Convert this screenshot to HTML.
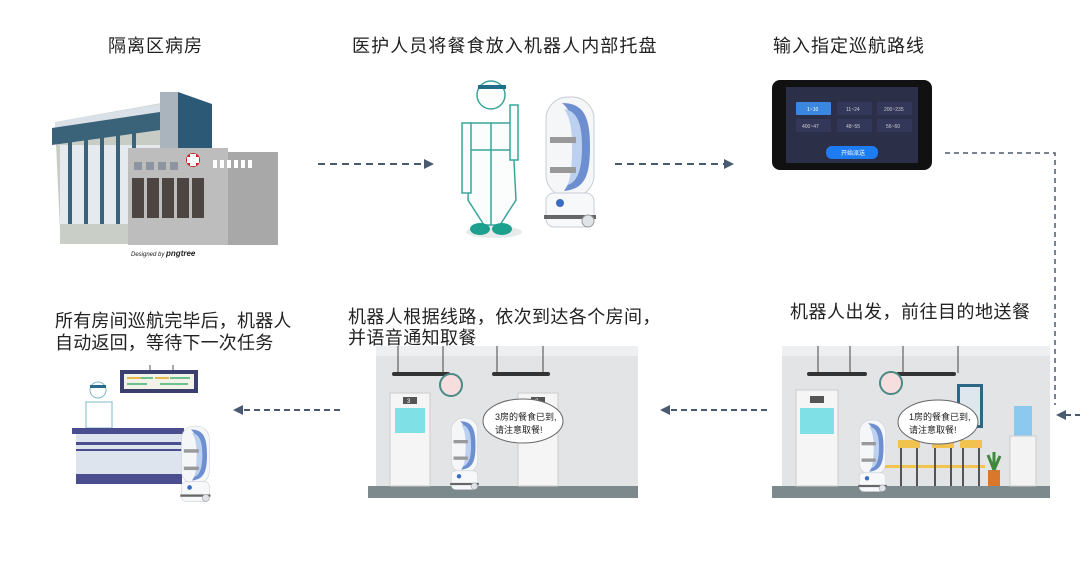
<!DOCTYPE html>
<html><head><meta charset="utf-8"><style>
html,body{margin:0;padding:0;background:#fff;}
svg{display:block}
text{font-family:"Liberation Sans","Noto Sans CJK SC",sans-serif;fill:#222;}
</style></head><body>
<svg width="1080" height="585" viewBox="0 0 1080 585" xmlns="http://www.w3.org/2000/svg">
<defs>
<marker id="ah" markerWidth="10" markerHeight="10" refX="8" refY="5" orient="auto" markerUnits="userSpaceOnUse">
<path d="M0,0 L10,5 L0,10 Z" fill="#4a5a70"/></marker>
<g id="robot">
<rect x="6" y="0" width="48" height="100" rx="22" fill="#f4f6f8" stroke="#c9ced6"/>
<path d="M22,6 C44,6 50,20 50,50 C50,80 44,92 24,94 C34,80 36,60 36,48 C36,30 32,14 22,6Z" fill="#6d8fd0"/>
<path d="M24,12 C38,14 42,28 42,50 C42,72 38,84 28,88 C32,74 32,60 32,48 C32,32 30,20 24,12Z" fill="#bcd0ef"/>
<rect x="10" y="40" width="26" height="6" fill="#999"/>
<rect x="10" y="70" width="26" height="6" fill="#999"/>
<rect x="6" y="96" width="48" height="34" rx="8" fill="#f7f8fa" stroke="#c9ced6"/>
<rect x="4" y="118" width="52" height="4" fill="#666"/>
<circle cx="48" cy="124" r="6" fill="#e0e3e8" stroke="#999"/>
<circle cx="20" cy="106" r="4" fill="#3a6cc0"/>
</g>
</defs>

<!-- Titles -->
<text x="108" y="52" font-size="18" letter-spacing="1">隔离区病房</text>
<text x="352" y="52" font-size="18" letter-spacing="1.1">医护人员将餐食放入机器人内部托盘</text>
<text x="773" y="52" font-size="18" letter-spacing="1">输入指定巡航路线</text>

<!-- Building -->
<g>
<polygon points="55,122 190,98 190,230 60,230" fill="#c7cdc4"/>
<polygon points="55,122 160,104 160,114 55,132" fill="#d9e0e8"/>
<polygon points="52,128 160,112 160,130 52,145" fill="#3a6278"/>
<rect x="160" y="92" width="18" height="100" fill="#aab4bd"/>
<polygon points="178,92 212,104 212,160 178,160" fill="#2c5a76"/>
<rect x="60" y="145" width="100" height="80" fill="#e4eaee"/>
<g fill="#3a6278"><rect x="68" y="140" width="4" height="85"/><rect x="84" y="138" width="4" height="87"/><rect x="100" y="135" width="4" height="90"/><rect x="116" y="132" width="4" height="93"/><rect x="132" y="130" width="4" height="95"/></g>
<rect x="60" y="224" width="70" height="20" fill="#c9cfc6"/>
<rect x="128" y="148" width="100" height="97" fill="#bdbdbd"/>
<rect x="228" y="152" width="50" height="93" fill="#a8a8a8"/>
<g fill="#8d96a0"><rect x="134" y="162" width="8" height="8"/><rect x="146" y="162" width="8" height="8"/><rect x="158" y="162" width="8" height="8"/><rect x="170" y="162" width="8" height="8"/></g>
<circle cx="193" cy="160" r="7" fill="#d8232a"/><rect x="190" y="154" width="6" height="12" fill="#fff"/><rect x="187" y="157" width="12" height="6" fill="#fff"/>
<g fill="#fff"><rect x="213" y="160" width="4" height="8"/><rect x="220" y="160" width="4" height="8"/><rect x="227" y="160" width="4" height="8"/><rect x="234" y="160" width="4" height="8"/><rect x="241" y="160" width="4" height="8"/><rect x="248" y="160" width="4" height="8"/></g>
<g fill="#4d4541"><rect x="132" y="178" width="12" height="40"/><rect x="147" y="178" width="12" height="40"/><rect x="162" y="178" width="12" height="40"/><rect x="177" y="178" width="12" height="40"/><rect x="192" y="178" width="12" height="40"/></g>
<text x="131" y="256" font-size="6" font-style="italic">Designed by <tspan font-size="8" font-weight="bold">pngtree</tspan></text>
</g>

<!-- Row 1 arrows -->
<line x1="318" y1="164" x2="432" y2="164" stroke="#4a5a70" stroke-width="2" stroke-dasharray="7,5" marker-end="url(#ah)"/>
<line x1="615" y1="164" x2="732" y2="164" stroke="#4a5a70" stroke-width="2" stroke-dasharray="7,5" marker-end="url(#ah)"/>

<!-- Medical worker -->
<g stroke="#3aa59b" stroke-width="1.5" fill="#fbfdfc">
<ellipse cx="494" cy="232" rx="28" ry="6" fill="#e6eaea" stroke="none"/>
<circle cx="491" cy="95" r="14"/>
<path d="M470,123 L512,123 L516,200 L500,225 L490,225 L484,225 L468,200Z"/>
<line x1="491" y1="123" x2="491" y2="225"/>
<line x1="470" y1="150" x2="514" y2="150"/>
<rect x="462" y="123" width="9" height="70"/>
<rect x="510" y="105" width="8" height="55"/>
</g>
<rect x="478" y="85" width="28" height="4" fill="#1f6f8b"/>
<ellipse cx="480" cy="229" rx="10" ry="6" fill="#1ea08f"/>
<ellipse cx="502" cy="229" rx="10" ry="6" fill="#1ea08f"/>
<use href="#robot" x="540" y="97" transform=""/>

<!-- Tablet -->
<rect x="772" y="80" width="160" height="90" rx="8" fill="#111"/>
<rect x="786" y="87" width="132" height="76" fill="#2b2f48"/>
<rect x="796" y="102" width="35" height="13" rx="1" fill="#3b86e0"/>
<rect x="837" y="102" width="35" height="13" fill="#33385a"/>
<rect x="877" y="102" width="35" height="13" fill="#33385a"/>
<rect x="796" y="119" width="35" height="13" fill="#33385a"/>
<rect x="837" y="119" width="35" height="13" fill="#33385a"/>
<rect x="877" y="119" width="35" height="13" fill="#33385a"/>
<text x="807" y="111" font-size="5" fill="#fff" style="fill:#fff">1~10</text>
<text x="846" y="111" font-size="5" style="fill:#ccc">11~24</text>
<text x="884" y="111" font-size="5" style="fill:#ccc">200~235</text>
<text x="802" y="128" font-size="5" style="fill:#ccc">400~47</text>
<text x="846" y="128" font-size="5" style="fill:#ccc">48~55</text>
<text x="886" y="128" font-size="5" style="fill:#ccc">56~60</text>
<rect x="826" y="146" width="52" height="13" rx="6" fill="#1e7cf2"/>
<text x="841" y="155" font-size="6" style="fill:#fff">开始派送</text>

<!-- Right connector -->
<polyline points="945,153 1055,153 1055,405" fill="none" stroke="#4a5a70" stroke-width="1.5" stroke-dasharray="5,4"/>
<line x1="1080" y1="415" x2="1058" y2="415" stroke="#4a5a70" stroke-width="2" stroke-dasharray="5,4" marker-end="url(#ah)"/>

<!-- Row 2 titles -->
<text x="790" y="318" font-size="18" letter-spacing="0.5">机器人出发，前往目的地送餐</text>
<text x="348" y="323" font-size="18" letter-spacing="0.4">机器人根据线路，依次到达各个房间，</text>
<text x="348" y="344" font-size="18" letter-spacing="0.4">并语音通知取餐</text>
<text x="55" y="327" font-size="18" letter-spacing="0.2">所有房间巡航完毕后，机器人</text>
<text x="55" y="349" font-size="18" letter-spacing="0.2">自动返回，等待下一次任务</text>

<!-- Scene right -->
<g>
<rect x="782" y="346" width="268" height="140" fill="#e3e4e6"/>
<rect x="782" y="346" width="268" height="10" fill="#eeeff0"/>
<rect x="772" y="486" width="278" height="12" fill="#7c8a8e"/>
<line x1="818" y1="346" x2="818" y2="373" stroke="#444"/><line x1="850" y1="346" x2="850" y2="373" stroke="#444"/>
<line x1="903" y1="346" x2="903" y2="373" stroke="#444"/><line x1="958" y1="346" x2="958" y2="373" stroke="#444"/>
<rect x="807" y="372" width="60" height="4" rx="2" fill="#333"/><rect x="896" y="372" width="60" height="4" rx="2" fill="#333"/>
<circle cx="891" cy="383" r="11" fill="#f6dede" stroke="#4a8a86" stroke-width="2"/>
<rect x="796" y="390" width="42" height="96" fill="#f5f5f5" stroke="#ccc"/>
<rect x="810" y="396" width="14" height="7" fill="#555"/>
<rect x="800" y="408" width="34" height="26" fill="#7fe0e6"/>
<rect x="957" y="384" width="26" height="44" fill="#2e6786"/><rect x="960" y="387" width="20" height="38" fill="#dfe7ee"/>
<g fill="#f2c24e"><rect x="898" y="440" width="22" height="8"/><rect x="932" y="440" width="22" height="8"/><rect x="960" y="440" width="22" height="8"/><rect x="885" y="465" width="100" height="3"/></g>
<g fill="#555"><rect x="900" y="448" width="2" height="38"/><rect x="916" y="448" width="2" height="38"/><rect x="934" y="448" width="2" height="38"/><rect x="950" y="448" width="2" height="38"/><rect x="962" y="448" width="2" height="38"/><rect x="978" y="448" width="2" height="38"/></g>
<rect x="988" y="470" width="12" height="16" fill="#d9772b"/><path d="M994,470 L988,455 M994,470 L994,452 M994,470 L1000,456" stroke="#3d8a3a" stroke-width="3"/>
<rect x="1014" y="406" width="18" height="30" fill="#8dc8ee"/><rect x="1010" y="436" width="26" height="50" fill="#f3f3f3" stroke="#ccc"/>
<ellipse cx="938" cy="422" rx="40" ry="22" fill="#fff" stroke="#666"/>
<text x="909" y="420" font-size="9">1房的餐食已到,</text>
<text x="909" y="433" font-size="9">请注意取餐!</text>
<use href="#robot" transform="translate(856,420) scale(0.55)"/>
</g>

<!-- Scene middle -->
<g>
<rect x="376" y="346" width="262" height="140" fill="#e3e4e6"/>
<rect x="376" y="346" width="262" height="10" fill="#eeeff0"/>
<rect x="368" y="486" width="270" height="12" fill="#7c8a8e"/>
<line x1="398" y1="346" x2="398" y2="373" stroke="#444"/><line x1="443" y1="346" x2="443" y2="373" stroke="#444"/>
<line x1="497" y1="346" x2="497" y2="373" stroke="#444"/><line x1="543" y1="346" x2="543" y2="373" stroke="#444"/>
<rect x="392" y="372" width="58" height="4" rx="2" fill="#333"/><rect x="492" y="372" width="58" height="4" rx="2" fill="#333"/>
<circle cx="451" cy="385" r="11" fill="#f6dede" stroke="#4a8a86" stroke-width="2"/>
<rect x="390" y="393" width="40" height="93" fill="#f5f5f5" stroke="#ccc"/>
<rect x="403" y="397" width="14" height="7" fill="#555"/><text x="407" y="403" font-size="6" style="fill:#fff">3</text>
<rect x="395" y="408" width="30" height="25" fill="#7fe0e6"/>
<rect x="518" y="393" width="40" height="93" fill="#f5f5f5" stroke="#ccc"/>
<rect x="531" y="397" width="14" height="7" fill="#555"/><text x="535" y="403" font-size="6" style="fill:#fff">2</text>
<rect x="522" y="408" width="30" height="25" fill="#7fe0e6"/>
<ellipse cx="523" cy="421" rx="40" ry="22" fill="#fff" stroke="#666"/>
<text x="495" y="420" font-size="9">3房的餐食已到,</text>
<text x="495" y="433" font-size="9">请注意取餐!</text>
<use href="#robot" transform="translate(448,418) scale(0.55)"/>
</g>
<line x1="767" y1="410" x2="662" y2="410" stroke="#4a5a70" stroke-width="2" stroke-dasharray="6,4" marker-end="url(#ah)"/>
<line x1="340" y1="410" x2="235" y2="410" stroke="#4a5a70" stroke-width="2" stroke-dasharray="6,4" marker-end="url(#ah)"/>

<!-- Reception -->
<g>
<line x1="150" y1="365" x2="150" y2="370" stroke="#555"/><line x1="173" y1="365" x2="173" y2="370" stroke="#555"/>
<rect x="120" y="370" width="78" height="23" fill="#3b3f6e"/>
<rect x="124" y="374" width="70" height="15" fill="#f2f2e8"/>
<g fill="#e3b84a"><rect x="127" y="377" width="14" height="2"/><rect x="155" y="377" width="14" height="2"/></g>
<g fill="#6cc08e"><rect x="141" y="377" width="12" height="2"/><rect x="170" y="377" width="20" height="2"/><rect x="127" y="383" width="20" height="2"/><rect x="160" y="383" width="28" height="2"/></g>
<circle cx="98" cy="390" r="8" fill="#fff" stroke="#7db9c9"/>
<rect x="90" y="385" width="16" height="3" fill="#2a6a8e"/>
<path d="M86,428 L86,402 L112,402 L112,428Z" fill="#fff" stroke="#7db9c9"/>
<rect x="72" y="428" width="112" height="6" fill="#4a4e8f"/>
<rect x="76" y="434" width="106" height="50" fill="#dde4ee"/>
<rect x="76" y="442" width="106" height="3" fill="#4a4e8f"/>
<rect x="76" y="449" width="106" height="2" fill="#4a4e8f"/>
<rect x="76" y="474" width="106" height="10" fill="#4a4e8f"/>
<use href="#robot" transform="translate(178,426) scale(0.58)"/>
</g>
</svg>
</body></html>
